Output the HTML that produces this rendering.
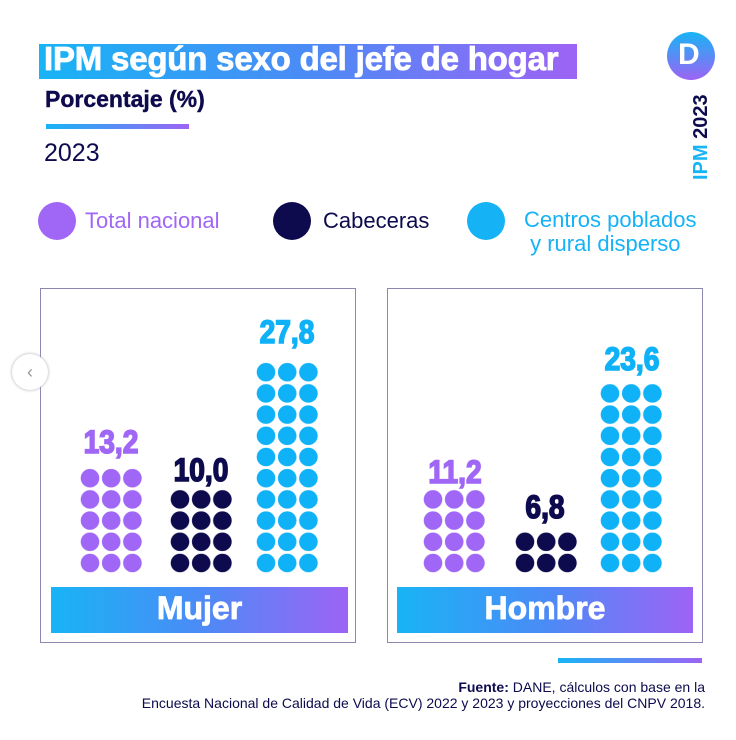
<!DOCTYPE html>
<html><head><meta charset="utf-8"><style>
body{margin:0;width:736px;height:740px;background:#fff;overflow:hidden;position:relative;font-family:"Liberation Sans",sans-serif}
.a{position:absolute}
</style></head><body>
<div class="a" style="left:39px;top:44px;width:538px;height:35px;background:linear-gradient(90deg,#18b4f5,#4b8bf6 50%,#9d63f5)"></div>
<div class="a" style="left:44px;top:40px;font-size:33px;font-weight:bold;color:#fff;white-space:nowrap;letter-spacing:-0.2px;-webkit-text-stroke:0.8px #fff">IPM según sexo del jefe de hogar</div>
<div class="a" style="left:45px;top:86px;font-size:23px;font-weight:bold;color:#0d0a4d;white-space:nowrap;-webkit-text-stroke:0.4px #0d0a4d">Porcentaje (%)</div>
<div class="a" style="left:46px;top:124px;width:143px;height:5px;background:linear-gradient(90deg,#18b4f5,#9d63f5)"></div>
<div class="a" style="left:44px;top:139px;font-size:25px;color:#0d0a4d">2023</div>
<div class="a" style="left:667px;top:32px;width:48px;height:48px;border-radius:50%;background:linear-gradient(180deg,#18b4f5,#9d63f5)"></div>
<div class="a" style="left:678px;top:38px;font-size:30px;font-weight:bold;color:#fff">D</div>
<div class="a" style="left:690px;top:180px;transform:rotate(-90deg);transform-origin:left top;font-size:20px;font-weight:bold;white-space:nowrap;color:#18b4f5">IPM <span style="color:#0d0a4d">2023</span></div>
<div class="a" style="left:38px;top:202px;width:38px;height:38px;border-radius:50%;background:#a066f5"></div>
<div class="a" style="left:85px;top:208px;font-size:22px;color:#a066f5">Total nacional</div>
<div class="a" style="left:273px;top:202px;width:38px;height:38px;border-radius:50%;background:#0d0a4d"></div>
<div class="a" style="left:323px;top:208px;font-size:22px;color:#0d0a4d">Cabeceras</div>
<div class="a" style="left:467px;top:202px;width:38px;height:38px;border-radius:50%;background:#15b2f6"></div>
<div class="a" style="left:524px;top:208px;font-size:22px;color:#15b2f6;line-height:24px">Centros poblados<br>&nbsp;y rural disperso</div>
<div class="a" style="left:40px;top:288px;width:316px;height:355px;border:1.5px solid #8a88b0;box-sizing:border-box"></div>
<div class="a" style="left:387px;top:288px;width:316px;height:355px;border:1.5px solid #8a88b0;box-sizing:border-box"></div>
<div class="a" style="left:51px;top:587px;width:297px;height:46px;background:linear-gradient(90deg,#18b4f5,#4b8bf6 50%,#9d63f5)"></div>
<div class="a" style="left:397px;top:587px;width:296px;height:46px;background:linear-gradient(90deg,#18b4f5,#4b8bf6 50%,#9d63f5)"></div>
<div class="a" style="left:51px;top:590px;width:297px;text-align:center;font-size:32px;font-weight:bold;color:#fff;-webkit-text-stroke:0.8px #fff">Mujer</div>
<div class="a" style="left:397px;top:590px;width:296px;text-align:center;font-size:32px;font-weight:bold;color:#fff;-webkit-text-stroke:0.8px #fff">Hombre</div>
<svg class="a" style="left:0;top:0" width="736" height="740">
<defs>
<pattern id="pp" width="21.2" height="21.2" patternUnits="userSpaceOnUse"><circle cx="10.6" cy="10.6" r="9.3" fill="#a066f5"/></pattern>
<pattern id="pn" width="21.2" height="21.2" patternUnits="userSpaceOnUse"><circle cx="10.6" cy="10.6" r="9.3" fill="#0d0a4d"/></pattern>
<pattern id="pc" width="21.2" height="21.2" patternUnits="userSpaceOnUse"><circle cx="10.6" cy="10.6" r="9.3" fill="#0fb1f7"/></pattern>
</defs>
<g transform="translate(79.4,467.6)"><rect width="63.6" height="106" fill="url(#pp)"/></g>
<g transform="translate(169.4,488.8)"><rect width="63.6" height="84.8" fill="url(#pn)"/></g>
<g transform="translate(255.4,361.6)"><rect width="63.6" height="212" fill="url(#pc)"/></g>
<g transform="translate(422.4,488.8)"><rect width="63.6" height="84.8" fill="url(#pp)"/></g>
<g transform="translate(514.4,531.2)"><rect width="63.6" height="42.4" fill="url(#pn)"/></g>
<g transform="translate(599.4,382.8)"><rect width="63.6" height="190.8" fill="url(#pc)"/></g>
<g font-family="Liberation Sans,sans-serif" font-weight="bold" font-size="32" text-anchor="middle" stroke-width="1.6">
<text x="111" y="453" fill="#a066f5" stroke="#a066f5" transform="translate(111,0) scale(0.88,1) translate(-111,0)">13,2</text>
<text x="201" y="481" fill="#0d0a4d" stroke="#0d0a4d" transform="translate(201,0) scale(0.88,1) translate(-201,0)">10,0</text>
<text x="287" y="343" fill="#0fb1f7" stroke="#0fb1f7" transform="translate(287,0) scale(0.88,1) translate(-287,0)">27,8</text>
<text x="455" y="483" fill="#a066f5" stroke="#a066f5" transform="translate(455,0) scale(0.88,1) translate(-455,0)">11,2</text>
<text x="545" y="518" fill="#0d0a4d" stroke="#0d0a4d" transform="translate(545,0) scale(0.88,1) translate(-545,0)">6,8</text>
<text x="632" y="370" fill="#0fb1f7" stroke="#0fb1f7" transform="translate(632,0) scale(0.88,1) translate(-632,0)">23,6</text>
</g>
</svg>
<div class="a" style="left:558px;top:658px;width:144px;height:5px;background:linear-gradient(90deg,#18b4f5,#9d63f5)"></div>
<div class="a" style="right:31px;top:679px;font-size:14px;color:#0d0a4d;text-align:right;line-height:16px;white-space:nowrap"><b>Fuente:</b> DANE, cálculos con base en la<br>Encuesta Nacional de Calidad de Vida (ECV) 2022 y 2023 y proyecciones del CNPV 2018.</div>
<div class="a" style="left:12px;top:354px;width:36px;height:36px;border-radius:50%;background:#fff;box-shadow:0 0 3px #aaa;color:#999;font-size:18px;text-align:center;line-height:36px">‹</div>
</body></html>
